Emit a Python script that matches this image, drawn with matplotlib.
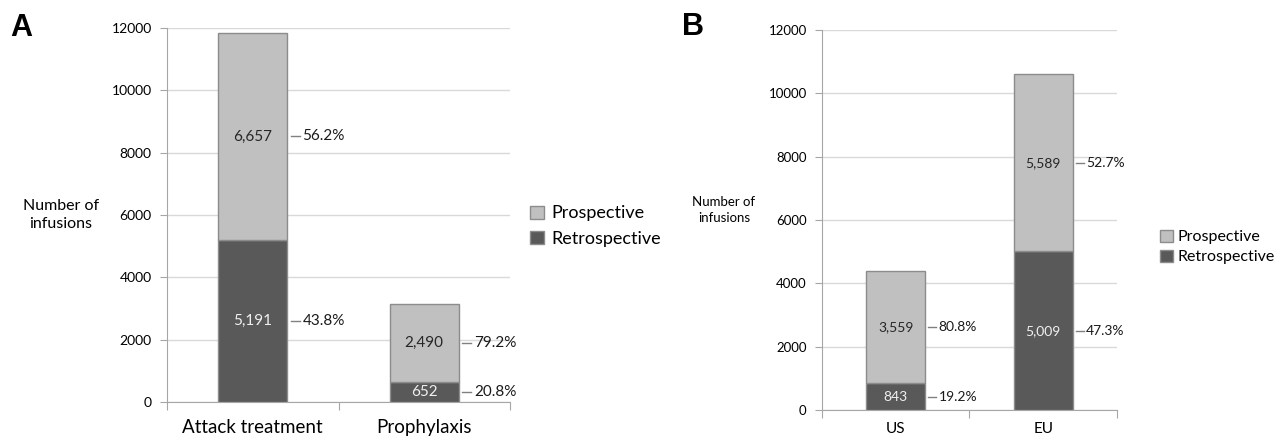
import matplotlib
matplotlib.use("Agg")
import matplotlib.pyplot as plt
from matplotlib.patches import Patch

plt.rcParams['font.family'] = ['Lato', 'DejaVu Sans']

# panel A
cats_a = ['Attack treatment', 'Prophylaxis']
retro_a = [5191, 652]
prosp_a = [6657, 2490]
pct_retro_a = ['43.8%', '20.8%']
pct_prosp_a = ['56.2%', '79.2%']

# panel B
cats_b = ['US', 'EU']
retro_b = [843, 5009]
prosp_b = [3559, 5589]
pct_retro_b = ['19.2%', '47.3%']
pct_prosp_b = ['80.8%', '52.7%']

yticks = [0, 2000, 4000, 6000, 8000, 10000, 12000]

LIGHT = '#c0c0c0'
DARK = '#595959'
EDGE = '#8c8c8c'
GRID = '#d9d9d9'
AXC = '#a6a6a6'

fig = plt.figure(figsize=(12.77, 4.37), dpi=100)


def panel(rect, cats, retro, prosp, pr, pp, fs_tick, fs_val, fs_pct, fs_cat, cat_off):
    ax = fig.add_axes(rect)
    x = list(range(len(cats)))
    w = 0.4
    ax.bar(x, retro, width=w, color=DARK, edgecolor=EDGE, linewidth=1, zorder=3)
    ax.bar(x, prosp, width=w, bottom=retro, color=LIGHT, edgecolor=EDGE, linewidth=1, zorder=3)
    ax.set_xlim(-0.5, len(cats) - 0.5)
    ax.set_ylim(0, 12000)
    ax.set_yticks(yticks)
    ax.set_yticklabels([str(t) for t in yticks], fontsize=fs_tick)
    ax.yaxis.grid(True, color=GRID, linewidth=1, zorder=0)
    ax.set_axisbelow(True)
    for s in ['top', 'right']:
        ax.spines[s].set_visible(False)
    for s in ['left', 'bottom']:
        ax.spines[s].set_color(AXC)
    ax.tick_params(axis='y', length=5, color=AXC, pad=6)
    # ticks sit between the categories
    ax.set_xticks([i - 0.5 for i in range(len(cats) + 1)])
    ax.set_xticklabels([''] * (len(cats) + 1))
    ax.tick_params(axis='x', length=6, color=AXC)
    for i, c in enumerate(cats):
        ax.annotate(c, (i, 0), xytext=(0, -cat_off), textcoords='offset pixels',
                    ha='center', va='center', fontsize=fs_cat, annotation_clip=False)
    for i in range(len(cats)):
        yr = retro[i] / 2
        yp = retro[i] + prosp[i] / 2
        ax.text(i, yr, f'{retro[i]:,}', ha='center', va='center', color='#f0f0f0', fontsize=fs_val, zorder=4)
        ax.text(i, yp, f'{prosp[i]:,}', ha='center', va='center', color='#262626', fontsize=fs_val, zorder=4)
        for yy, lab in [(yr, pr[i]), (yp, pp[i])]:
            ax.plot([i + w / 2 + 0.02, i + w / 2 + 0.075], [yy, yy], color='#808080', lw=1,
                    clip_on=False, zorder=4)
            ax.text(i + w / 2 + 0.09, yy, lab, ha='left', va='center', fontsize=fs_pct, color='#1a1a1a')
    return ax


axA = panel([0.1308, 0.0801, 0.2686, 0.8558], cats_a, retro_a, prosp_a, pct_retro_a, pct_prosp_a,
            10, 11, 11, 13.5, 26)
axB = panel([0.6437, 0.0618, 0.2310, 0.8696], cats_b, retro_b, prosp_b, pct_retro_b, pct_prosp_b,
            9.5, 10, 10, 11, 19)

fig.text(61 / 1277, 1 - 215 / 437, 'Number of\ninfusions', ha='center', va='center', fontsize=11.5,
         linespacing=1.3)
fig.text(724 / 1277, 1 - 210 / 437, 'Number of\ninfusions', ha='center', va='center', fontsize=9.5,
         linespacing=1.4)

fig.text(21 / 1277, 1 - 28 / 437, 'A', ha='center', va='center', fontsize=22, fontweight='bold',
         family='Liberation Sans')
fig.text(693 / 1277, 1 - 27 / 437, 'B', ha='center', va='center', fontsize=22, fontweight='bold',
         family='Liberation Sans')

handles = [Patch(facecolor=LIGHT, edgecolor=EDGE, label='Prospective'),
           Patch(facecolor=DARK, edgecolor=EDGE, label='Retrospective')]
fig.legend(handles=handles, loc='center left', bbox_to_anchor=(514 / 1277, 1 - 226 / 437),
           frameon=False, fontsize=13, handlelength=0.75, handleheight=0.75, handletextpad=0.4,
           labelspacing=0.5)
fig.legend(handles=handles, loc='center left', bbox_to_anchor=(1146 / 1277, 1 - 247 / 437),
           frameon=False, fontsize=11.5, handlelength=0.8, handleheight=0.8, handletextpad=0.3,
           labelspacing=0.35)

fig.savefig('out.png', dpi=100)
